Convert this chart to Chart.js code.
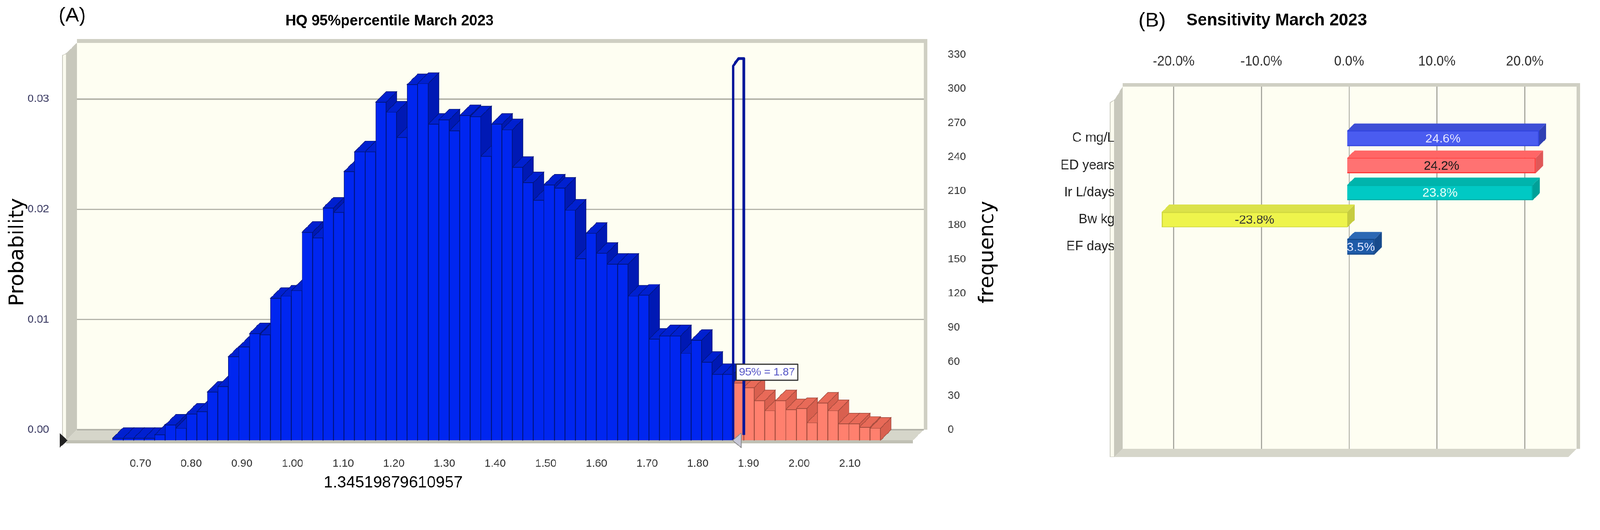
<!DOCTYPE html>
<html><head><meta charset="utf-8">
<script src="https://cdn.jsdelivr.net/npm/chart.js@4"></script>
<style>
html,body{margin:0;padding:0;background:#fff;overflow:hidden}
#root{position:absolute;left:0;top:0;width:4374px;height:1358px;transform-origin:0 0}
#wa{position:absolute;left:0;top:0;width:2800px;height:1358px}
#wb{position:absolute;left:2850px;top:0;width:1524px;height:1358px}
</style></head><body>
<div id="root">
<div id="wa"><canvas id="ca"></canvas></div>
<div id="wb"><canvas id="cb"></canvas></div>
</div>
<script>
(function(){const S=Math.min(window.innerWidth/4374, window.innerHeight/1358); if(S>0 && S<0.999) document.getElementById('root').style.transform='scale('+S+')';})();
// ---- Histogram data (A) ----
const binStart = 0.645;
const binWidth = 0.02076;
const blueProb = [0.0002,0.0002,0.0002,0.0002,0.0005,0.0014,0.0011,0.0024,0.0026,0.0044,
 0.0049,0.0076,0.0085,0.0097,0.0096,0.0129,0.0131,0.0136,0.0189,0.0184,
 0.0211,0.0207,0.0244,0.0262,0.0262,0.0307,0.0298,0.0275,0.0323,0.0324,
 0.0287,0.0291,0.0281,0.0295,0.0294,0.0258,0.0287,0.0282,0.0248,0.0234,
 0.0218,0.0232,0.0229,0.0209,0.0165,0.0188,0.0170,0.0160,0.0160,0.0131,
 0.0132,0.0092,0.0095,0.0095,0.0079,0.0091,0.0071,0.0060,0.0060];
const redProb = [0.0052,0.0048,0.0036,0.0027,0.0036,0.0028,0.0029,0.0016,0.0034,0.0027,0.0015,0.0015,0.0012,0.0011];
const markerProb = 0.0340;
const percentile95 = 1.87;
const xTicksA = [0.70,0.80,0.90,1.00,1.10,1.20,1.30,1.40,1.50,1.60,1.70,1.80,1.90,2.00,2.10];
const probTicks = [0.00,0.01,0.02,0.03];
const freqTicks = [0,30,60,90,120,150,180,210,240,270,300,330];
// ---- Sensitivity data (B) ----
const sensLabels = ['C mg/L','ED years','Ir L/days','Bw kg','EF days'];
const sensValues = [24.6,24.2,23.8,-23.8,3.5];
const sensTextValues = ['24.6%','24.2%','23.8%','-23.8%','3.5%'];
const sensTicks = [-20,-10,0,10,20];

const F = 'Liberation Sans, Arial, sans-serif';
const D = 29; // 3D depth (px)

const histData = [];
blueProb.forEach((v,i)=>histData.push({x: binStart + binWidth*(i+0.5), y: v}));
redProb.forEach((v,i)=>histData.push({x: binStart + binWidth*(blueProb.length+i+0.5), y: v}));
const histColors = histData.map((d,i)=> i<blueProb.length ? '#0026f0' : '#ff806e');
const histSide = histData.map((d,i)=> i<blueProb.length ? '#0019b4' : '#d9604f');
const histTop = histData.map((d,i)=> i<blueProb.length ? '#0020d0' : '#e86a58');
const histBorder = histData.map((d,i)=> i<blueProb.length ? '#00157a' : '#a04a3c');

function poly(ctx, pts, fill, stroke, lw){
  ctx.beginPath(); ctx.moveTo(pts[0][0],pts[0][1]);
  for(let i=1;i<pts.length;i++) ctx.lineTo(pts[i][0],pts[i][1]);
  ctx.closePath();
  if(fill){ctx.fillStyle=fill; ctx.fill();}
  if(stroke){ctx.strokeStyle=stroke; ctx.lineWidth=lw||1.5; ctx.stroke();}
}

const wallsA = {
  id:'wallsA',
  beforeDraw(chart){
    const {ctx, chartArea:a} = chart;
    ctx.save();
    ctx.fillStyle='#fefef2'; ctx.fillRect(a.left, a.top, a.right-a.left, a.bottom-D-a.top);
    poly(ctx, [[a.left,a.top],[a.left,a.bottom-D],[a.left-D,a.bottom],[a.left-D,a.top+D]], '#c8c8bc');
    poly(ctx, [[a.left-D,a.top+D],[a.left-D,a.bottom],[a.left-D-10,a.bottom],[a.left-D-10,a.top+D+6]], '#fbfbef','#c8c8bc',2);
    poly(ctx, [[a.left,a.bottom-D],[a.right,a.bottom-D],[a.right-D,a.bottom],[a.left-D,a.bottom]], '#d6d6ca');
    poly(ctx, [[a.left-D,a.bottom],[a.right-D,a.bottom],[a.right-D,a.bottom+8],[a.left-D,a.bottom+8]], '#c0c0b4');
    ctx.fillStyle='#cfcfc3'; ctx.fillRect(a.left, a.top-10, a.right-a.left, 10);
    ctx.fillRect(a.right, a.top-10, 10, a.bottom-D-a.top+10);
    ctx.restore();
  },
  beforeDatasetsDraw(chart){
    const ctx=chart.ctx;
    ctx.save();
    chart.getDatasetMeta(0).data.forEach((el,i)=>{
      const p=el.getProps(['x','y','base','width'],true);
      const l=p.x-p.width/2, r=p.x+p.width/2;
      poly(ctx,[[r,p.y],[r+D,p.y-D],[r+D,p.base-D],[r,p.base]],histSide[i],histBorder[i],1.5);
      poly(ctx,[[l,p.y],[l+D,p.y-D],[r+D,p.y-D],[r,p.y]],histTop[i],histBorder[i],1.5);
    });
    ctx.restore();
  },
  afterDatasetsDraw(chart){
    const ctx=chart.ctx;
    ctx.save();
    chart.getDatasetMeta(1).data.forEach(el=>{
      const p=el.getProps(['x','y','base','width'],true);
      const l=p.x-p.width/2, r=p.x+p.width/2;
      ctx.strokeStyle='#00169a'; ctx.lineWidth=7; ctx.lineJoin='round';
      ctx.beginPath();
      ctx.moveTo(l,p.base); ctx.lineTo(l,p.y); ctx.lineTo(l+D*0.5,p.y-D*0.7); ctx.lineTo(r,p.y-D*0.7);
      ctx.lineTo(r,p.base-D*0.5); ctx.stroke();
    });
    const xs=chart.scales.x, ys=chart.scales.y;
    const bx=xs.getPixelForValue(percentile95)+8, by=ys.getPixelForValue(0.0062);
    ctx.font='30px '+F;
    const t='95% = '+percentile95.toFixed(2);
    const w=ctx.measureText(t).width+16;
    ctx.fillStyle='#fff'; ctx.fillRect(bx,by-22,w,44);
    ctx.strokeStyle='#333'; ctx.lineWidth=3; ctx.strokeRect(bx,by-22,w,44);
    ctx.fillStyle='#5a5ac8'; ctx.textBaseline='middle'; ctx.fillText(t,bx+8,by+1);
    const tx=xs.getPixelForValue(percentile95)+10, ty=chart.chartArea.bottom;
    poly(ctx,[[tx+12,ty-20],[tx+12,ty+20],[tx-12,ty]],'#c8c8d8','#888',2);
    const lx=chart.chartArea.left-D-10;
    poly(ctx,[[lx-8,ty-20],[lx-8,ty+20],[lx+14,ty]],'#222');
    ctx.restore();
  },
  afterDraw(chart){
    const ctx=chart.ctx; ctx.save();
    ctx.fillStyle='#000'; ctx.textAlign='center'; ctx.textBaseline='middle';
    ctx.font='bold 40px '+F; ctx.fillText('HQ 95%percentile March 2023',1065,58);
    ctx.textAlign='left'; ctx.font='56px '+F; ctx.fillText('(A)',160,44);
    ctx.textAlign='center'; ctx.font='44px '+F; ctx.fillText('1.34519879610957',1075,1322);
    ctx.font='56px DejaVu Sans, sans-serif';
    ctx.save(); ctx.translate(48,690); ctx.rotate(-Math.PI/2); ctx.fillText('Probability',0,0); ctx.restore();
    ctx.save(); ctx.translate(2700,690); ctx.rotate(-Math.PI/2); ctx.fillText('frequency',0,0); ctx.restore();
    ctx.restore();
  }
};

new Chart(document.getElementById('ca'), {
  type:'bar',
  data:{datasets:[
    {data:histData, backgroundColor:histColors, borderColor:histBorder, borderWidth:1.5, yAxisID:'y', xAxisID:'x', order:2},
    {data:[{x: binStart + binWidth*(blueProb.length+0.5), y: markerProb}], backgroundColor:'rgba(0,0,0,0)', borderWidth:0, yAxisID:'y', xAxisID:'x', order:1}
  ]},
  options:{
    responsive:true, maintainAspectRatio:false, animation:false,
    grouped:false, barPercentage:1, categoryPercentage:1,
    layout:{padding:{top:117,left:0,right:0,bottom:0}},
    plugins:{legend:{display:false}, tooltip:{enabled:false}},
    scales:{
      x:{type:'linear', min:0.63, max:2.19, position:'bottom',
        afterFit(s){s.height=153;},
        afterBuildTicks(s){s.ticks=xTicksA.map(v=>({value:v}));},
        ticks:{font:{family:F,size:30}, color:'#333', padding:38, callback:v=>Number(v).toFixed(2), autoSkip:false, maxRotation:0},
        grid:{display:false}, border:{display:false}},
      y:{type:'linear', min:0, max:0.0361, display:false},
      yl:{type:'linear', position:'left', min:-0.00096, max:0.0351,
        afterFit(s){s.width=210;},
        afterBuildTicks(s){s.ticks=probTicks.map(v=>({value:v}));},
        ticks:{font:{family:F,size:30}, color:'#3c3c64', padding:76, callback:v=>Number(v).toFixed(2)},
        grid:{color:'#b4b4aa', lineWidth:4, drawTicks:false}, border:{display:false}},
      yr:{type:'linear', position:'right', min:-9.3, max:340.5,
        afterFit(s){s.width=275;},
        afterBuildTicks(s){s.ticks=freqTicks.map(v=>({value:v}));},
        ticks:{font:{family:F,size:30}, color:'#333', padding:66},
        grid:{display:false, drawTicks:false}, border:{display:false}}
    }
  },
  plugins:[wallsA]
});

// ---- Sensitivity chart (B) ----
const sFront=['#4a5cf0','#ff7272','#00c9c4','#eef44c','#1f5ba8'];
const sTop=['#3d4fd6','#ff6666','#00b4ac','#dbe24a','#2c68b4'];
const sSide=['#2f40b4','#e05858','#00a098','#c6cc40','#174a8c'];
const sBorder=['#3446e0','#ff3a3a','#00b0a8','#d0d840','#174a8c'];
const sText=['#e6e6ff','#1a1a1a','#eafff8','#333333','#dde4ff'];
const DB=20;
const wallsB={
  id:'wallsB',
  beforeDraw(chart){
    const {ctx, chartArea:a}=chart; ctx.save();
    ctx.fillStyle='#fefef2'; ctx.fillRect(a.left,a.top,a.right-a.left,a.bottom-a.top);
    ctx.fillStyle='#cfcfc3'; ctx.fillRect(a.left,a.top-10,a.right-a.left,10); ctx.fillRect(a.right,a.top-10,10,a.bottom-a.top+10);
    poly(ctx,[[a.left,a.top],[a.left,a.bottom],[a.left-22,a.bottom+22],[a.left-22,a.top+36]],'#c8c8bc');
    poly(ctx,[[a.left-22,a.top+36],[a.left-22,a.bottom+22],[a.left-34,a.bottom+22],[a.left-34,a.top+44]],'#fbfbef','#c8c8bc',2);
    poly(ctx,[[a.left,a.bottom],[a.right,a.bottom],[a.right-22,a.bottom+22],[a.left-22,a.bottom+22]],'#d6d6ca');
    ctx.restore();
  },
  beforeDatasetsDraw(chart){
    const ctx=chart.ctx; ctx.save();
    chart.getDatasetMeta(0).data.forEach((el,i)=>{
      const p=el.getProps(['x','y','base','height'],true);
      const l=Math.min(p.x,p.base), r=Math.max(p.x,p.base), t=p.y-p.height/2, b=p.y+p.height/2;
      poly(ctx,[[r,t],[r+DB,t-DB],[r+DB,b-DB],[r,b]],sSide[i]);
      poly(ctx,[[l,t],[l+DB,t-DB],[r+DB,t-DB],[r,t]],sTop[i]);
    });
    ctx.restore();
  },
  afterDatasetsDraw(chart){
    const ctx=chart.ctx; ctx.save();
    ctx.font='34px '+F; ctx.textAlign='center'; ctx.textBaseline='middle';
    chart.getDatasetMeta(0).data.forEach((el,i)=>{
      const p=el.getProps(['x','y','base'],true);
      ctx.fillStyle=sText[i];
      ctx.fillText(sensTextValues[i], (p.x+p.base)/2, p.y+2);
    });
    ctx.restore();
  },
  afterDraw(chart){
    const ctx=chart.ctx; ctx.save(); ctx.fillStyle='#000'; ctx.textBaseline='middle';
    ctx.font='56px '+F; ctx.textAlign='left'; ctx.fillText('(B)',262,58);
    ctx.font='bold 46px '+F; ctx.textAlign='center'; ctx.fillText('Sensitivity March 2023',640,56);
    ctx.restore();
  }
};

new Chart(document.getElementById('cb'),{
  type:'bar',
  data:{datasets:[{data:sensValues.map((v,i)=>({x:v,y:i+1})), backgroundColor:sFront, borderColor:sBorder, borderWidth:3, barThickness:42, xAxisID:'xb', yAxisID:'y'}]},
  options:{
    indexAxis:'y', responsive:true, maintainAspectRatio:false, animation:false,
    layout:{padding:{top:0,left:0,right:64,bottom:130}},
    plugins:{legend:{display:false}, tooltip:{enabled:false}},
    scales:{
      xb:{type:'linear', min:-28.83, max:29.44, display:false},
      xt:{type:'linear', position:'top', min:-25.8, max:25.9,
        afterFit(s){s.height=237;},
        afterBuildTicks(s){s.ticks=sensTicks.map(v=>({value:v}));},
        ticks:{font:{family:F,size:36}, color:'#333', padding:46, callback:v=>Number(v).toFixed(1)+'%'},
        grid:{color:'#a8a8a0', lineWidth:3, drawTicks:false}, border:{display:false}},
      y:{type:'linear', reverse:true, min:0.43, max:11.11, position:'left',
        afterFit(s){s.width=219;},
        afterBuildTicks(s){s.ticks=sensLabels.map((l,i)=>({value:i+1}));},
        ticks:{font:{family:F,size:36}, color:'#222', padding:22, callback:v=>sensLabels[v-1]||''},
        grid:{display:false, drawTicks:false}, border:{display:false}}
    }
  },
  plugins:[wallsB]
});
</script></body></html>
